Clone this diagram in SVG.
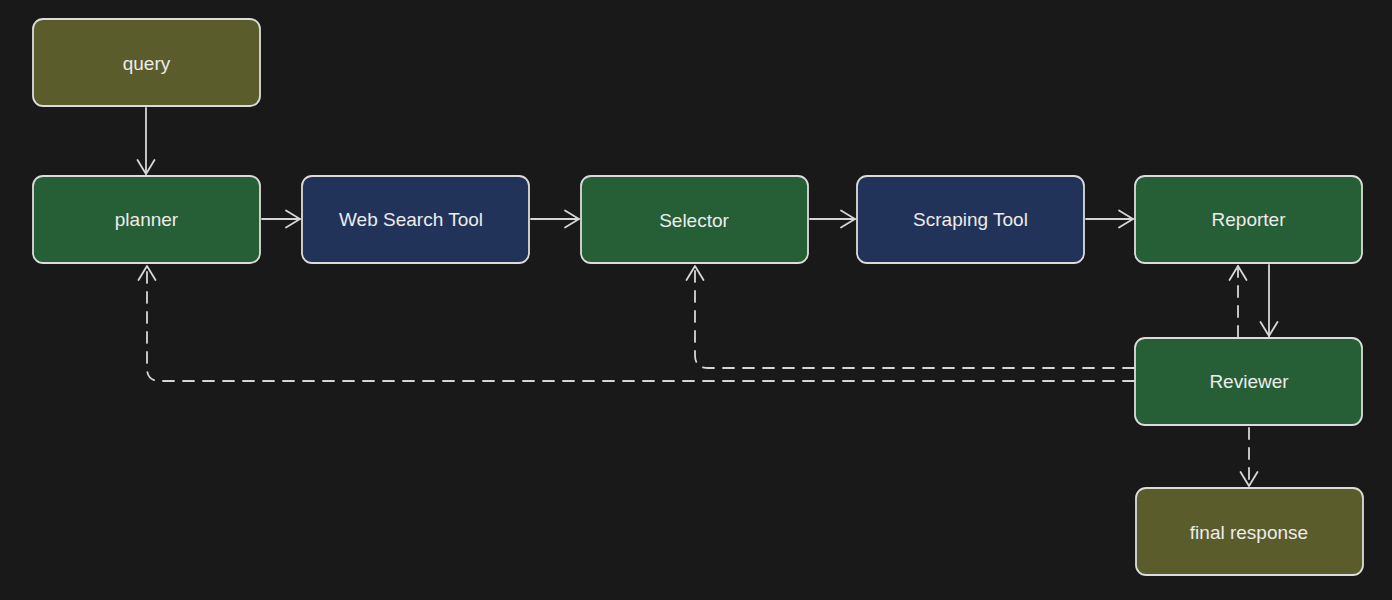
<svg xmlns="http://www.w3.org/2000/svg" width="1392" height="600" viewBox="0 0 1392 600">
<defs>
<style>
.node rect{stroke:#dcdcdc;stroke-width:1.8}
.olive{fill:#5a5d2b}
.green{fill:#265e36}
.blue{fill:#22335a}
.node text{font-family:"Liberation Sans",Arial,sans-serif;font-size:19px;fill:#ececec;text-anchor:middle;dominant-baseline:central}
.conn path{fill:none;stroke:#d6d6d6;stroke-width:1.8;stroke-linecap:round;stroke-linejoin:round}
.conn .dash{stroke-dasharray:11 9}
</style>
<marker id="ah" viewBox="0 0 20 20" refX="18" refY="10" markerWidth="20" markerHeight="20" markerUnits="userSpaceOnUse" orient="auto">
<path d="M4 1.5 L18 10 L4 18.5" fill="none" stroke="#d6d6d6" stroke-width="1.8" stroke-linecap="round" stroke-linejoin="round"/>
</marker>
</defs>
<rect width="1392" height="600" fill="#191919"/>
<g id="connectors" class="conn">
<path d="M146 108 L146 174" marker-end="url(#ah)"/>
<path d="M262 219 L300 219" marker-end="url(#ah)"/>
<path d="M531 219 L579 219" marker-end="url(#ah)"/>
<path d="M810 219 L855 219" marker-end="url(#ah)"/>
<path d="M1086 219 L1133 219" marker-end="url(#ah)"/>
<path d="M1269 265 L1269 336" marker-end="url(#ah)"/>
<path class="dash" d="M1238 337 L1238 266" marker-end="url(#ah)"/>
<path class="dash" d="M1134 368 L708 368 Q695 368 695 355 L695 266" marker-end="url(#ah)"/>
<path class="dash" d="M1134 381 L160 381 Q147 381 147 368 L147 266" marker-end="url(#ah)"/>
<path class="dash" d="M1249 428 L1249 486" marker-end="url(#ah)"/>
</g>
<g id="query" class="node"><rect class="olive" x="33" y="19" width="227" height="87" rx="10"/><text x="146.5" y="63">query</text></g>
<g id="planner" class="node"><rect class="green" x="33" y="176" width="227" height="87" rx="10"/><text x="146.5" y="219">planner</text></g>
<g id="web-search" class="node"><rect class="blue" x="302" y="176" width="227" height="87" rx="10"/><text x="411" y="219">Web Search Tool</text></g>
<g id="selector" class="node"><rect class="green" x="581" y="176" width="227" height="87" rx="10"/><text x="694" y="220">Selector</text></g>
<g id="scraping" class="node"><rect class="blue" x="857" y="176" width="227" height="87" rx="10"/><text x="970.5" y="219">Scraping Tool</text></g>
<g id="reporter" class="node"><rect class="green" x="1135" y="176" width="227" height="87" rx="10"/><text x="1248.5" y="219">Reporter</text></g>
<g id="reviewer" class="node"><rect class="green" x="1135" y="338" width="227" height="87" rx="10"/><text x="1249" y="381">Reviewer</text></g>
<g id="final-response" class="node"><rect class="olive" x="1136" y="488" width="227" height="87" rx="10"/><text x="1249" y="532">final response</text></g>
</svg>
